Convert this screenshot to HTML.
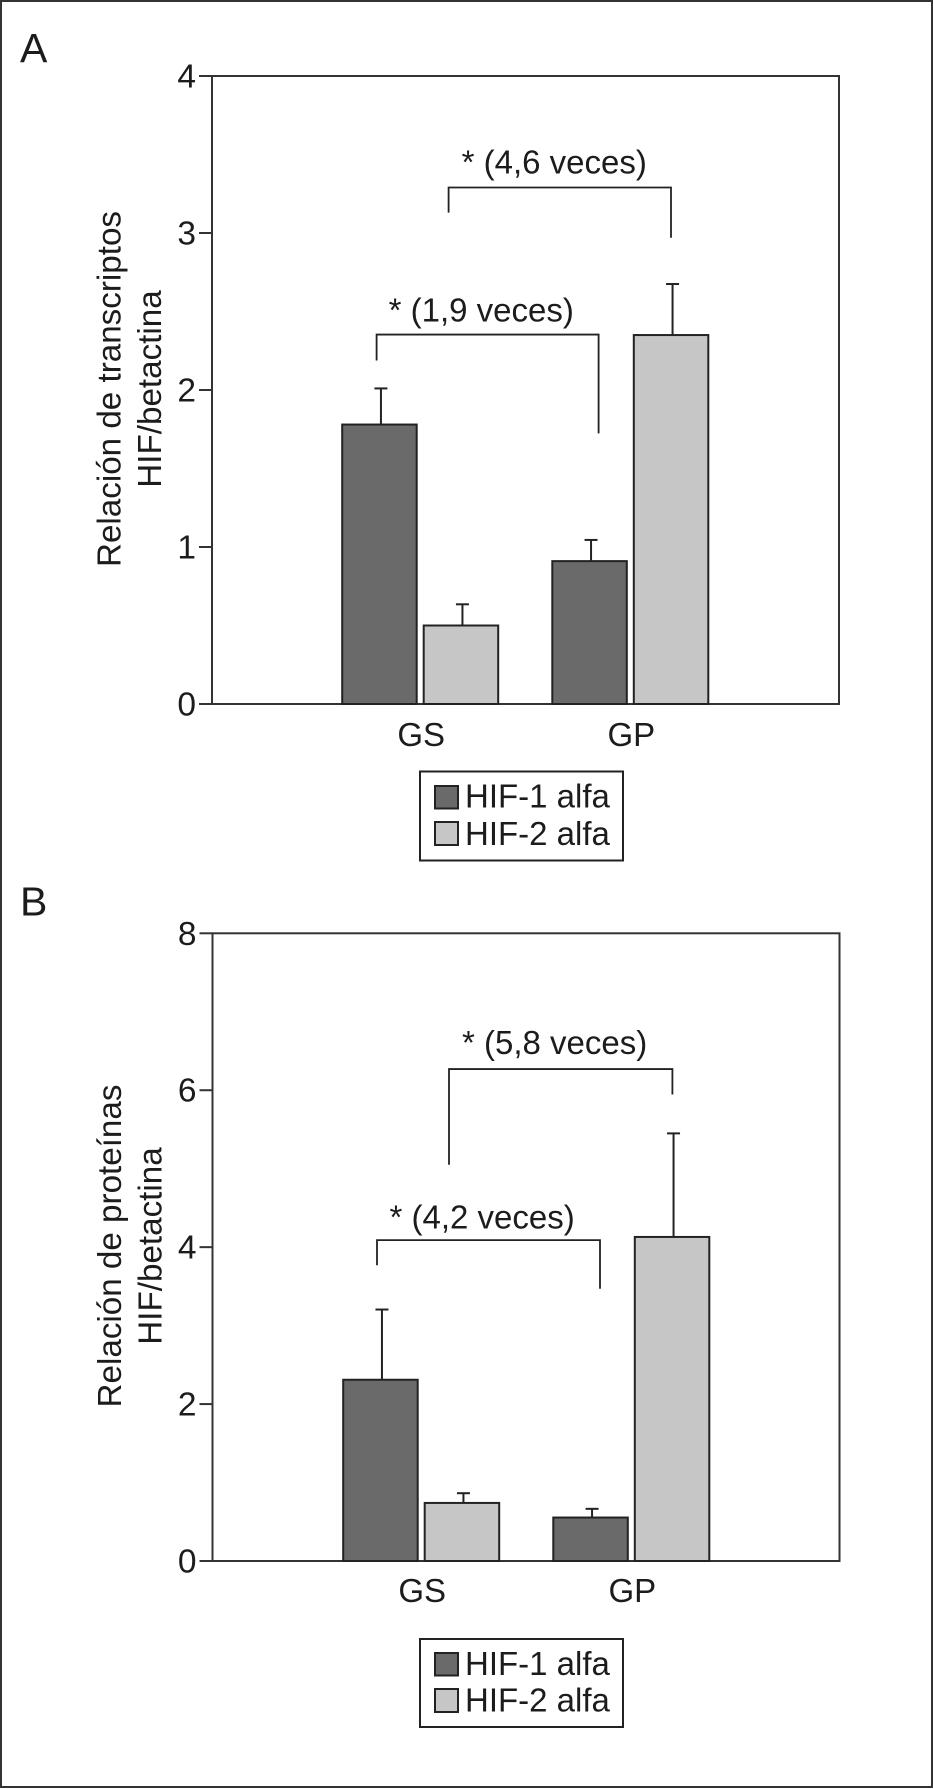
<!DOCTYPE html>
<html lang="es">
<head>
<meta charset="utf-8">
<title>HIF-1 alfa y HIF-2 alfa</title>
<style>
html,body{margin:0;padding:0;background:#fff;}
svg{display:block;}
text{font-family:"Liberation Sans",Arial,sans-serif;fill:#1c1c1c;}
</style>
</head>
<body>
<svg id="figure" xmlns="http://www.w3.org/2000/svg" width="933" height="1789" viewBox="0 0 933 1789">
  <rect x="0" y="0" width="933" height="1789" fill="#fff"/>
  <rect x="1" y="1" width="931" height="1786" fill="none" stroke="#333" stroke-width="2"/>

  <text x="20" y="62" font-size="41">A</text>
  <text x="20" y="915.5" font-size="41">B</text>

  <g font-size="33.2" text-anchor="middle">
    <text transform="translate(120.5 389) rotate(-90)">Relación de transcriptos</text>
    <text transform="translate(161 389) rotate(-90)">HIF/betactina</text>
  </g>
  <g font-size="33.2" text-anchor="middle">
    <text transform="translate(121 1246) rotate(-90)">Relación de proteínas</text>
    <text transform="translate(161.5 1246) rotate(-90)">HIF/betactina</text>
  </g>

  <g id="panelA"></g>
  <g id="panelB"></g>

  <g>
    <rect x="420" y="771.5" width="203" height="89" fill="#fff" stroke="#222" stroke-width="2"/>
    <rect x="435" y="786" width="23" height="22.5" fill="#6a6a6a" stroke="#222" stroke-width="2"/>
    <text x="465" y="807.5" font-size="33">HIF-1 alfa</text>
    <rect x="435" y="822" width="23" height="23" fill="#c6c6c6" stroke="#222" stroke-width="2"/>
    <text x="465" y="845" font-size="33">HIF-2 alfa</text>
  </g>
  <g>
    <rect x="420" y="1639" width="203" height="88" fill="#fff" stroke="#222" stroke-width="2"/>
    <rect x="435" y="1653" width="23" height="22.5" fill="#6a6a6a" stroke="#222" stroke-width="2"/>
    <text x="465" y="1675" font-size="33">HIF-1 alfa</text>
    <rect x="435" y="1689" width="23" height="23" fill="#c6c6c6" stroke="#222" stroke-width="2"/>
    <text x="465" y="1711.7" font-size="33">HIF-2 alfa</text>
  </g>
</svg>

<script>
// Shared categories
const categories = ['GS', 'GP'];

// Panel A data (relación de transcriptos)
const panelAYTicks = [0, 1, 2, 3, 4];
const panelAYTickLabels = ['0', '1', '2', '3', '4'];
const panelAHif1 = [1.78, 0.91];
const panelAHif2 = [0.50, 2.35];
const panelAHif1ErrorTop = [2.01, 1.045];
const panelAHif2ErrorTop = [0.635, 2.675];
const panelABracketLabels = ['* (4,6 veces)', '* (1,9 veces)'];
const panelABracketLevels = [3.29, 2.353];
const panelABracketLeftEnds = [3.13, 2.188];
const panelABracketRightEnds = [2.97, 1.724];

// Panel B data (relación de proteínas)
const panelBYTicks = [0, 2, 4, 6, 8];
const panelBYTickLabels = ['0', '2', '4', '6', '8'];
const panelBHif1 = [2.31, 0.554];
const panelBHif2 = [0.74, 4.13];
const panelBHif1ErrorTop = [3.205, 0.665];
const panelBHif2ErrorTop = [0.864, 5.45];
const panelBBracketLabels = ['* (5,8 veces)', '* (4,2 veces)'];
const panelBBracketLevels = [6.27, 4.09];
const panelBBracketLeftEnds = [5.05, 3.77];
const panelBBracketRightEnds = [5.945, 3.47];

const SVG_NS = 'http://www.w3.org/2000/svg';
const BAR_W = 74.5;
const BAR_GAP = 7;
const INK = '#222';

function mk(tag, attrs, parent) {
  const el = document.createElementNS(SVG_NS, tag);
  Object.keys(attrs).forEach(function (k) { el.setAttribute(k, attrs[k]); });
  parent.appendChild(el);
  return el;
}

function drawPanel(root, p, yTicks, yTickLabels, hif1, hif2, err1, err2, brLabels, brLevels, brLeft, brRight) {
  const yMax = yTicks[yTicks.length - 1];
  const y = function (v) { return p.bottom - (v / yMax) * (p.bottom - p.top); };
  const xCat = function (i) { return p.cat0 + i * p.catStep; };
  const xBar = function (i, s) { return xCat(i) + (s === 0 ? -(BAR_W + BAR_GAP / 2) : BAR_GAP / 2); };

  const plot = mk('rect', { x: p.left, y: p.top, width: p.right - p.left, height: p.bottom - p.top, fill: 'none', stroke: '#333', 'stroke-width': 2 }, root);
  
  

  yTicks.forEach(function (t, i) {
    const tick = mk('line', { x1: p.left - 13, x2: p.left, y1: y(t), y2: y(t), stroke: '#333', 'stroke-width': 2 }, root);
    
    
    const lab = mk('text', { x: p.left - 16, y: y(t) + 11.5, 'font-size': 33.5, 'text-anchor': 'end' }, root);
    lab.textContent = yTickLabels[i];
    
    
  });

  categories.forEach(function (c, i) {
    [[hif1, err1, '#6a6a6a', 'hif1'], [hif2, err2, '#c6c6c6', 'hif2']].forEach(function (s, si) {
      const bx = xBar(i, si);
      const cx = bx + BAR_W / 2 + 1.5;
      const stem = mk('line', { x1: cx, x2: cx, y1: y(s[1][i]), y2: y(s[0][i]), stroke: INK, 'stroke-width': 2 }, root);
      
      
      const cap = mk('line', { x1: cx - 6.5, x2: cx + 6.5, y1: y(s[1][i]), y2: y(s[1][i]), stroke: INK, 'stroke-width': 2 }, root);
      
      
      const bar = mk('rect', { x: bx, y: y(s[0][i]), width: BAR_W, height: p.bottom - y(s[0][i]), fill: s[2], stroke: INK, 'stroke-width': 2 }, root);
      
      
    });
    const xl = mk('text', { x: xCat(i) + p.labelShift, y: p.bottom + p.labelDrop, 'font-size': 33, 'text-anchor': 'middle' }, root);
    xl.textContent = c;
    
    
  });

  brLabels.forEach(function (txt, i) {
    const xa = p.bracketX[i][0];
    const xb = p.bracketX[i][1];
    const d = 'M' + xa + ' ' + y(brLeft[i]) + 'V' + y(brLevels[i]) + 'H' + xb + 'V' + y(brRight[i]);
    const path = mk('path', { d: d, fill: 'none', stroke: INK, 'stroke-width': 1.8 }, root);
    
    
    const t = mk('text', { x: xa + p.bracketTextShift[i], y: y(brLevels[i]) - p.bracketTextGap[i], 'font-size': 33 }, root);
    t.textContent = txt;
    
    
  });
}

drawPanel(document.getElementById('panelA'),
  { left: 212, right: 839, top: 76, bottom: 704, cat0: 420.2, catStep: 210.1, labelShift: 1, labelDrop: 42,
    bracketX: [[448.6, 671], [376.6, 598.6]], bracketTextGap: [14, 13], bracketTextShift: [13, 12] },
  panelAYTicks, panelAYTickLabels, panelAHif1, panelAHif2, panelAHif1ErrorTop, panelAHif2ErrorTop,
  panelABracketLabels, panelABracketLevels, panelABracketLeftEnds, panelABracketRightEnds);

drawPanel(document.getElementById('panelB'),
  { left: 212.5, right: 839.5, top: 933.3, bottom: 1561, cat0: 421.2, catStep: 210.1, labelShift: 1, labelDrop: 41,
    bracketX: [[449, 672.4], [377, 600]], bracketTextGap: [15, 11.5], bracketTextShift: [13, 12.5] },
  panelBYTicks, panelBYTickLabels, panelBHif1, panelBHif2, panelBHif1ErrorTop, panelBHif2ErrorTop,
  panelBBracketLabels, panelBBracketLevels, panelBBracketLeftEnds, panelBBracketRightEnds);
</script>
</body>
</html>
